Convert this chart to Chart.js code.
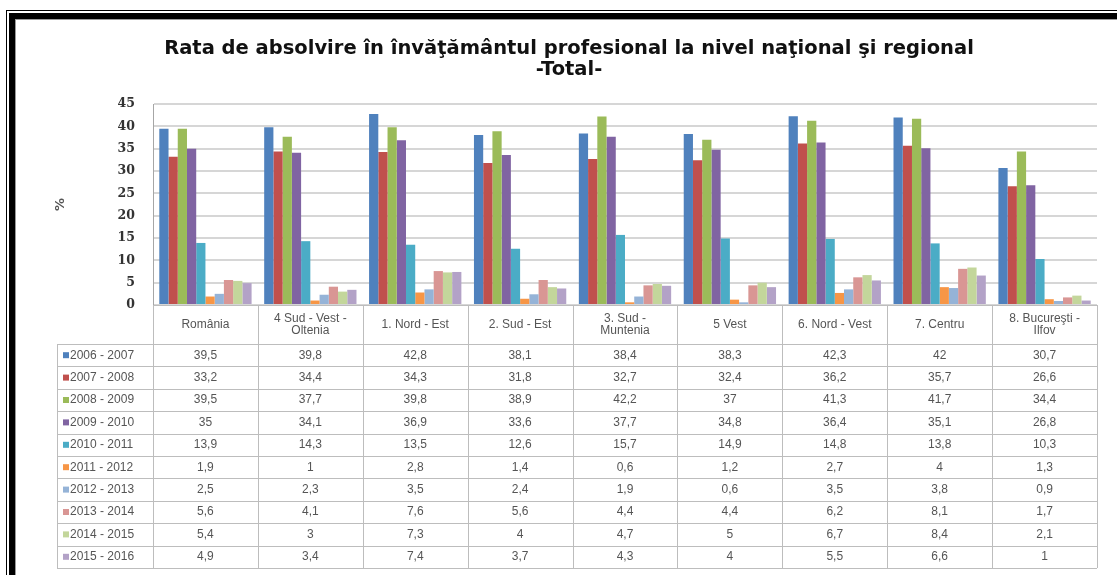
<!DOCTYPE html>
<html>
<head>
<meta charset="utf-8">
<script src="https://cdn.jsdelivr.net/npm/chart.js@4.4.1/dist/chart.umd.min.js"></script>
<style>
html,body{margin:0;padding:0;background:#fff}
#wrap{position:relative;width:1117px;height:575px;overflow:hidden}
#chart{position:absolute;left:0;top:0}
.b1{position:absolute;left:6px;top:10px;right:-10px;bottom:-10px;border-left:1px solid #000;border-top:1px solid #000}
.b2{position:absolute;left:9px;top:13px;right:-10px;bottom:-10px;border-left:6px solid #000;border-top:6px solid #000}
.b3{position:absolute;left:15px;top:19px;right:-10px;bottom:-10px;border-left:1px solid #999;border-top:1px solid #999}
</style>
</head>
<body>
<div id="wrap">
<canvas id="chart" width="1117" height="575"></canvas>
<div class="b1"></div><div class="b2"></div><div class="b3"></div>
</div>
<script>
const categories = [["România"], ["4 Sud - Vest -", "Oltenia"], ["1. Nord - Est"], ["2. Sud - Est"], ["3. Sud -", "Muntenia"], ["5 Vest"], ["6. Nord - Vest"], ["7. Centru"], ["8. Bucureşti -", "Ilfov"]]
const seriesNames = ["2006 - 2007", "2007 - 2008", "2008 - 2009", "2009 - 2010", "2010 - 2011", "2011 - 2012", "2012 - 2013", "2013 - 2014", "2014 - 2015", "2015 - 2016"]
const s2006 = [39.5, 39.8, 42.8, 38.1, 38.4, 38.3, 42.3, 42, 30.7]
const s2007 = [33.2, 34.4, 34.3, 31.8, 32.7, 32.4, 36.2, 35.7, 26.6]
const s2008 = [39.5, 37.7, 39.8, 38.9, 42.2, 37, 41.3, 41.7, 34.4]
const s2009 = [35, 34.1, 36.9, 33.6, 37.7, 34.8, 36.4, 35.1, 26.8]
const s2010 = [13.9, 14.3, 13.5, 12.6, 15.7, 14.9, 14.8, 13.8, 10.3]
const s2011 = [1.9, 1, 2.8, 1.4, 0.6, 1.2, 2.7, 4, 1.3]
const s2012 = [2.5, 2.3, 3.5, 2.4, 1.9, 0.6, 3.5, 3.8, 0.9]
const s2013 = [5.6, 4.1, 7.6, 5.6, 4.4, 4.4, 6.2, 8.1, 1.7]
const s2014 = [5.4, 3, 7.3, 4, 4.7, 5, 6.7, 8.4, 2.1]
const s2015 = [4.9, 3.4, 7.4, 3.7, 4.3, 4, 5.5, 6.6, 1]
const yTicks = [0, 5, 10, 15, 20, 25, 30, 35, 40, 45]

const seriesValues = [s2006, s2007, s2008, s2009, s2010, s2011, s2012, s2013, s2014, s2015]
const colors = ["#4F81BD", "#C0504D", "#9BBB59", "#8064A2", "#4BACC6", "#F79646", "#95B3D7", "#D99694", "#C3D69B", "#B3A2C7"]

// table under the plot, aligned on the x scale
const dataTable = {
  id: 'dataTable',
  afterDraw(chart) {
    const ctx = chart.ctx
    const xs = chart.scales.x
    const area = chart.chartArea
    const n = categories.length
    const w = (area.right - area.left) / n
    const top = area.bottom
    const headBottom = top + 39
    const rowH = 22.4
    const labelLeft = 57
    const bottom = headBottom + rowH * seriesNames.length
    ctx.save()
    ctx.strokeStyle = '#bdbdbd'
    ctx.lineWidth = 1
    ctx.beginPath()
    ctx.moveTo(area.left, Math.round(top) + 0.5)
    ctx.lineTo(area.right, Math.round(top) + 0.5)
    for (let r = 0; r <= seriesNames.length; r++) {
      const y = Math.round(headBottom + r * rowH) + 0.5
      ctx.moveTo(labelLeft, y)
      ctx.lineTo(area.right, y)
    }
    for (let i = 0; i <= n; i++) {
      const x = Math.round(area.left + i * w) + 0.5
      ctx.moveTo(x, top)
      ctx.lineTo(x, bottom)
    }
    ctx.moveTo(labelLeft + 0.5, headBottom)
    ctx.lineTo(labelLeft + 0.5, bottom)
    ctx.stroke()

    ctx.fillStyle = '#555'
    ctx.font = '12px "Liberation Sans", Arial, sans-serif'
    ctx.textAlign = 'center'
    ctx.textBaseline = 'middle'
    categories.forEach((lines, i) => {
      const cx = xs.getPixelForValue(i)
      const cy = (top + headBottom) / 2
      lines.forEach((t, k) => ctx.fillText(t, cx, cy + (k - (lines.length - 1) / 2) * 12))
    })
    chart.data.datasets.forEach((ds, r) => {
      const cy = headBottom + (r + 0.5) * rowH
      ctx.fillStyle = '#555'
      ctx.textAlign = 'center'
      ds.data.forEach((v, i) => ctx.fillText(String(v).replace('.', ','), xs.getPixelForValue(i), cy))
      ctx.fillStyle = ds.backgroundColor
      ctx.fillRect(labelLeft + 6, cy - 3, 6, 6)
      ctx.fillStyle = '#555'
      ctx.textAlign = 'left'
      ctx.fillText(ds.label, labelLeft + 13, cy)
    })
    ctx.restore()
  }
}

new Chart(document.getElementById('chart'), {
  type: 'bar',
  data: {
    labels: categories,
    datasets: seriesNames.map((name, i) => ({
      label: name,
      data: seriesValues[i],
      backgroundColor: colors[i],
      borderWidth: 0,
      categoryPercentage: 0.88,
      barPercentage: 1
    }))
  },
  options: {
    responsive: false,
    animation: false,
    layout: {padding: {left: 41, right: 20, top: 0, bottom: 0}},
    plugins: {
      legend: {display: false},
      tooltip: {enabled: false},
      title: {
        display: true,
        text: ['Rata de absolvire în învăţământul profesional la nivel naţional şi regional', '-Total-'],
        color: '#111',
        font: {family: '"DejaVu Sans", Verdana, sans-serif', size: 19.5, weight: 'bold', lineHeight: 1.08},
        padding: {top: 38, bottom: 24}
      }
    },
    scales: {
      x: {
        ticks: {display: false},
        grid: {display: false},
        border: {display: false},
        afterFit(scale) { scale.height = 270 }
      },
      y: {
        min: 0,
        max: 45,
        afterBuildTicks(scale) { scale.ticks = yTicks.map(v => ({value: v})) },
        afterFit(scale) { scale.width = 112 },
        ticks: {
          color: '#333',
          padding: 18,
          font: {family: '"DejaVu Serif", serif', size: 12.5, weight: 'bold'}
        },
        grid: {color: '#d6d6d6', lineWidth: 2, drawTicks: false},
        border: {display: true, color: '#a6a6a6', width: 1},
        title: {
          display: true,
          text: '%',
          color: '#555',
          font: {family: '"DejaVu Sans", sans-serif', size: 13, weight: 'bold'},
          padding: {top: 12, bottom: 0}
        }
      }
    }
  },
  plugins: [dataTable]
})
</script>
</body>
</html>
